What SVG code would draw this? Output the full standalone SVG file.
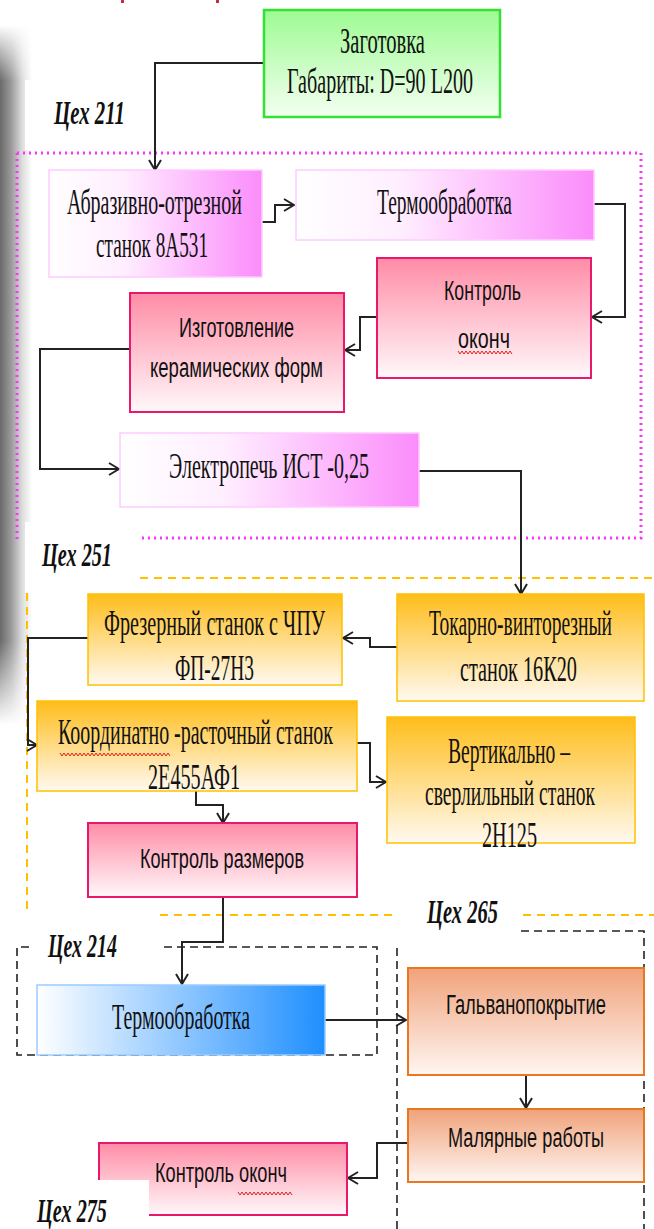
<svg xmlns="http://www.w3.org/2000/svg" width="654" height="1229" viewBox="0 0 654 1229">
<defs>
<style>
.t{font-family:"Liberation Serif","Times New Roman",serif;font-size:35px;fill:#111}
.s{font-family:"Liberation Sans",Arial,sans-serif;font-size:27px;fill:#111}
.lbl{font-family:"Liberation Serif","Times New Roman",serif;font-size:33px;font-weight:bold;font-style:italic;fill:#111}
.con{fill:none;stroke:#222;stroke-width:2;marker-end:url(#arr)}
.wavy{fill:none;stroke:#e02020;stroke-width:1}
.pink{fill:none;stroke:#ff33ff;stroke-width:3;stroke-dasharray:2 4}
.orng{fill:none;stroke:#ffc000;stroke-width:2;stroke-dasharray:8 6}
.blk{fill:none;stroke:#222;stroke-width:1.6;stroke-dasharray:8 5}
</style>
<linearGradient id="gGreen" x1="0" y1="0" x2="0" y2="1"><stop offset="0" stop-color="#9dfb92"/><stop offset="1" stop-color="#f4fff2"/></linearGradient>
<linearGradient id="gMag" x1="0" y1="0" x2="1" y2="0"><stop offset="0" stop-color="#ffffff"/><stop offset="0.35" stop-color="#ffeeff"/><stop offset="1" stop-color="#fb8cfb"/></linearGradient>
<linearGradient id="gRed" x1="0" y1="0" x2="0" y2="1"><stop offset="0" stop-color="#ff8ca6"/><stop offset="1" stop-color="#fff8fa"/></linearGradient>
<linearGradient id="gOr" x1="0" y1="0" x2="0" y2="1"><stop offset="0" stop-color="#ffbd1a"/><stop offset="1" stop-color="#fff9f0"/></linearGradient>
<linearGradient id="gSal" x1="0" y1="0" x2="0" y2="1"><stop offset="0" stop-color="#f0a27a"/><stop offset="1" stop-color="#fff6f2"/></linearGradient>
<linearGradient id="gBlue" x1="0" y1="0" x2="1" y2="0"><stop offset="0" stop-color="#ffffff"/><stop offset="1" stop-color="#1f8fff"/></linearGradient>
<linearGradient id="gShade" x1="0" y1="0" x2="1" y2="0"><stop offset="0" stop-color="#6a6a6a"/><stop offset="0.35" stop-color="#9a9a9a"/><stop offset="0.7" stop-color="#dedede"/><stop offset="1" stop-color="#ffffff"/></linearGradient>
<linearGradient id="gFadeV" x1="0" y1="0" x2="0" y2="1"><stop offset="0" stop-color="#000"/><stop offset="0.08" stop-color="#fff"/><stop offset="0.88" stop-color="#fff"/><stop offset="1" stop-color="#000"/></linearGradient>
<mask id="shMask" maskUnits="userSpaceOnUse" x="0" y="0" width="60" height="760"><rect x="0" y="25" width="40" height="700" fill="url(#gFadeV)"/></mask>
<marker id="arr" viewBox="0 0 12 14" refX="11" refY="7" markerWidth="12" markerHeight="14" markerUnits="userSpaceOnUse" orient="auto"><path d="M1,1 L11,7 L1,13" fill="none" stroke="#222" stroke-width="2"/></marker>
</defs>
<rect width="654" height="1229" fill="#fff"/>
<g id="shadow">
<rect x="0" y="25" width="32" height="700" fill="url(#gShade)" mask="url(#shMask)"/>
<rect x="25" y="80" width="115" height="70" fill="#fff"/>
<rect x="25" y="522" width="115" height="71" fill="#fff"/>
<rect x="121" y="0" width="3" height="3" fill="#c03040"/>
<rect x="216" y="0" width="3" height="3" fill="#c03040"/>
</g>
<g id="regions">
<path class="pink" d="M17,153 H641 V538 H140 M17,153 V542"/>
<path class="orng" d="M140,578 H654 M27,593 V915 M160,915 H396 M523,915 H654"/>
<path class="blk" d="M29,947 H17 V1055 H377 V947 H160"/>
<path class="blk" d="M521,931 H644 V1229 M397,948 V1229"/>
</g>
<g id="connectors">
<path class="con" d="M264,63 H155 V170"/>
<path class="con" d="M262,222 H275 V205 H294"/>
<path class="con" d="M594,204 H625 V317 H592"/>
<path class="con" d="M377,317 H360 V350 H345"/>
<path class="con" d="M130,349 H40 V469 H119"/>
<path class="con" d="M419,471 H521 V594"/>
<path class="con" d="M397,647 H370 V638 H343"/>
<path class="con" d="M88,638 H28 V745 H37"/>
<path class="con" d="M357,743 H370 V782 H386"/>
<path class="con" d="M196,791 V805 H223 V823"/>
<path class="con" d="M223,897 V942 H182 V984"/>
<path class="con" d="M325,1020 H406"/>
<path class="con" d="M526,1075 V1108"/>
<path class="con" d="M408,1143 H377 V1178 H348"/>
</g>
<g id="n-zagotovka">
<rect x="264" y="10" width="236" height="107" fill="url(#gGreen)" stroke="#33e033" stroke-width="2.5"/>
<text class="t" x="340" y="53" textLength="85" lengthAdjust="spacingAndGlyphs">Заготовка</text>
<text class="t" x="287" y="93" textLength="186" lengthAdjust="spacingAndGlyphs">Габариты: D=90 L200</text>
</g>
<g id="n-abraziv">
<rect x="49" y="170" width="213" height="107" fill="url(#gMag)" stroke="#ffccff" stroke-width="1.5"/>
<text class="t" x="67" y="214" textLength="175" lengthAdjust="spacingAndGlyphs">Абразивно-отрезной</text>
<text class="t" x="96" y="257" textLength="112" lengthAdjust="spacingAndGlyphs">станок 8А531</text>
</g>
<g id="n-termo1">
<rect x="296" y="170" width="298" height="70" fill="url(#gMag)" stroke="#ffccff" stroke-width="1.5"/>
<text class="t" x="377" y="214" textLength="135" lengthAdjust="spacingAndGlyphs">Термообработка</text>
</g>
<g id="n-kontrol1">
<rect x="377" y="258" width="214" height="120" fill="url(#gRed)" stroke="#e8196a" stroke-width="2"/>
<text class="s" x="444" y="300" textLength="77" lengthAdjust="spacingAndGlyphs">Контроль</text>
<text class="s" x="458" y="348" textLength="52" lengthAdjust="spacingAndGlyphs">оконч</text>
<polyline class="wavy" points="458,351 460,354 462,351 464,354 466,351 468,354 470,351 472,354 474,351 476,354 478,351 480,354 482,351 484,354 486,351 488,354 490,351 492,354 494,351 496,354 498,351 500,354 502,351 504,354 506,351 508,354 510,351 512,354"/>
</g>
<g id="n-izgot">
<rect x="130" y="293" width="214" height="119" fill="url(#gRed)" stroke="#e8196a" stroke-width="2"/>
<text class="s" x="179" y="337" textLength="115" lengthAdjust="spacingAndGlyphs">Изготовление</text>
<text class="s" x="150" y="377" textLength="173" lengthAdjust="spacingAndGlyphs">керамических форм</text>
</g>
<g id="n-elektro">
<rect x="120" y="433" width="299" height="74" fill="url(#gMag)" stroke="#ffccff" stroke-width="1.5"/>
<text class="t" x="169" y="478" textLength="200" lengthAdjust="spacingAndGlyphs">Электропечь ИСТ -0,25</text>
</g>
<g id="n-tokar">
<rect x="397" y="594" width="247" height="107" fill="url(#gOr)" stroke="#ffc000" stroke-width="1.5"/>
<text class="t" x="429" y="635" textLength="183" lengthAdjust="spacingAndGlyphs">Токарно-винторезный</text>
<text class="t" x="460" y="681" textLength="117" lengthAdjust="spacingAndGlyphs">станок 16К20</text>
</g>
<g id="n-frez">
<rect x="88" y="594" width="254" height="91" fill="url(#gOr)" stroke="#ffc000" stroke-width="1.5"/>
<text class="t" x="104" y="635" textLength="221" lengthAdjust="spacingAndGlyphs">Фрезерный станок с ЧПУ</text>
<text class="t" x="175" y="680" textLength="79" lengthAdjust="spacingAndGlyphs">ФП-27Н3</text>
</g>
<g id="n-koord">
<rect x="37" y="701" width="320" height="90" fill="url(#gOr)" stroke="#ffc000" stroke-width="1.5"/>
<text class="t" x="58" y="744" textLength="275" lengthAdjust="spacingAndGlyphs">Координатно -расточный  станок</text>
<polyline class="wavy" points="60,753 62,756 64,753 66,756 68,753 70,756 72,753 74,756 76,753 78,756 80,753 82,756 84,753 86,756 88,753 90,756 92,753 94,756 96,753 98,756 100,753 102,756 104,753 106,756 108,753 110,756 112,753 114,756 116,753 118,756 120,753 122,756 124,753 126,756 128,753 130,756 132,753 134,756 136,753 138,756 140,753 142,756 144,753 146,756 148,753 150,756 152,753 154,756 156,753 158,756 160,753 162,756 164,753 166,756 168,753 170,756"/>
<text class="t" x="148" y="789" textLength="92" lengthAdjust="spacingAndGlyphs">2Е455АФ1</text>
</g>
<g id="n-vert">
<rect x="387" y="717" width="248" height="126" fill="url(#gOr)" stroke="#ffc000" stroke-width="1.5"/>
<text class="t" x="448" y="763" textLength="122" lengthAdjust="spacingAndGlyphs">Вертикально –</text>
<text class="t" x="425" y="805" textLength="170" lengthAdjust="spacingAndGlyphs">сверлильный станок</text>
<text class="t" x="482" y="847" textLength="55" lengthAdjust="spacingAndGlyphs">2Н125</text>
</g>
<g id="n-kontrol-razm">
<rect x="88" y="823" width="269" height="74" fill="url(#gRed)" stroke="#e8196a" stroke-width="2"/>
<text class="s" x="140" y="868" textLength="164" lengthAdjust="spacingAndGlyphs">Контроль размеров</text>
</g>
<g id="n-termo2">
<rect x="37" y="985" width="288" height="70" fill="url(#gBlue)" stroke="#99ccff" stroke-width="1.5"/>
<text class="t" x="112" y="1029" textLength="138" lengthAdjust="spacingAndGlyphs">Термообработка</text>
</g>
<g id="n-galvan">
<rect x="408" y="968" width="236" height="107" fill="url(#gSal)" stroke="#e87722" stroke-width="2"/>
<text class="s" x="446" y="1014" textLength="160" lengthAdjust="spacingAndGlyphs">Гальванопокрытие</text>
</g>
<g id="n-malyar">
<rect x="408" y="1109" width="236" height="73" fill="url(#gSal)" stroke="#e87722" stroke-width="2"/>
<text class="s" x="448" y="1147" textLength="156" lengthAdjust="spacingAndGlyphs">Малярные работы</text>
</g>
<g id="n-kontrol2">
<rect x="99" y="1143" width="248" height="72" fill="url(#gRed)" stroke="#e8196a" stroke-width="2"/>
<rect x="97" y="1180" width="52" height="49" fill="#fff"/>
<text class="s" x="155" y="1182" textLength="132" lengthAdjust="spacingAndGlyphs">Контроль оконч</text>
<polyline class="wavy" points="238,1192 240,1195 242,1192 244,1195 246,1192 248,1195 250,1192 252,1195 254,1192 256,1195 258,1192 260,1195 262,1192 264,1195 266,1192 268,1195 270,1192 272,1195 274,1192 276,1195 278,1192 280,1195 282,1192 284,1195 286,1192 288,1195 290,1192 292,1195"/>
</g>
<g id="labels">
<text class="lbl" x="54" y="124" textLength="71" lengthAdjust="spacingAndGlyphs">Цех 211</text>
<text class="lbl" x="42" y="566" textLength="70" lengthAdjust="spacingAndGlyphs">Цех 251</text>
<text class="lbl" x="427" y="923" textLength="71" lengthAdjust="spacingAndGlyphs">Цех 265</text>
<text class="lbl" x="48" y="957" textLength="69" lengthAdjust="spacingAndGlyphs">Цех 214</text>
<text class="lbl" x="37" y="1222" textLength="70" lengthAdjust="spacingAndGlyphs">Цех 275</text>
</g>
</svg>
